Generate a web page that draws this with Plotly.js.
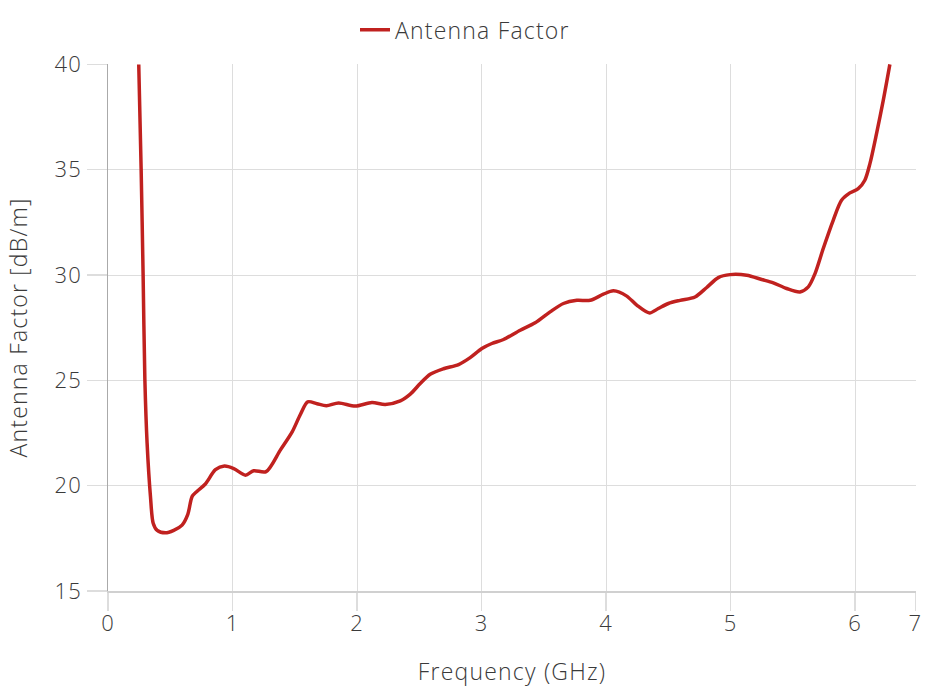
<!DOCTYPE html>
<html>
<head>
<meta charset="utf-8">
<script src="https://cdn.plot.ly/plotly-3.0.1.min.js"></script>
<style>
html,body{margin:0;padding:0;background:#fff;}
#chart{width:930px;height:696px;}
svg text{letter-spacing:1.2px;}
</style>
</head>
<body>
<div id="chart"></div>
<script>
// Frequency (GHz)
var freq = [0.247, 0.266, 0.282, 0.296, 0.314, 0.341, 0.363, 0.395, 0.461, 0.528, 0.595, 0.641, 0.676, 0.716, 0.782, 0.863, 0.935, 1.01, 1.104, 1.17, 1.27, 1.384, 1.478, 1.545, 1.604, 1.679, 1.754, 1.852, 1.986, 2.12, 2.227, 2.348, 2.428, 2.508, 2.588, 2.695, 2.816, 2.909, 3.003, 3.083, 3.177, 3.311, 3.431, 3.551, 3.658, 3.766, 3.872, 3.979, 4.06, 4.167, 4.247, 4.349, 4.42, 4.501, 4.595, 4.715, 4.809, 4.902, 4.996, 5.13, 5.25, 5.344, 5.451, 5.558, 5.625, 5.679, 5.745, 5.825, 5.892, 5.959, 6.026, 6.079, 6.12, 6.173, 6.227, 6.28];
// Antenna Factor (dB/m)
var af = [40.0, 35.07, 30.0, 25.08, 22.03, 19.49, 18.22, 17.88, 17.76, 17.88, 18.13, 18.64, 19.49, 19.74, 20.08, 20.76, 20.93, 20.81, 20.5, 20.71, 20.67, 21.69, 22.54, 23.38, 23.98, 23.89, 23.8, 23.93, 23.78, 23.95, 23.86, 24.03, 24.35, 24.85, 25.29, 25.55, 25.75, 26.08, 26.51, 26.75, 26.94, 27.38, 27.73, 28.25, 28.65, 28.8, 28.8, 29.09, 29.25, 29.0, 28.57, 28.2, 28.41, 28.65, 28.8, 28.96, 29.41, 29.88, 30.02, 29.99, 29.79, 29.63, 29.36, 29.2, 29.44, 30.07, 31.26, 32.6, 33.55, 33.9, 34.1, 34.5, 35.29, 36.71, 38.29, 40.0];
var xTickVals = [0, 1, 2, 3, 4, 5, 6, 6.485];
var xTickText = ["0", "1", "2", "3", "4", "5", "6", "7"];
var yTickVals = [15, 20, 25, 30, 35, 40];

var FONT = "Open Sans, Lato, sans-serif";
var TXT = '#3a3a3a';
var trace = {
  x: freq, y: af, type: 'scatter', mode: 'lines', name: 'Antenna Factor',
  line: {color: '#c0211f', width: 3.5, shape: 'spline', smoothing: 0.8},
  hoverinfo: 'x+y'
};
var layout = {
  width: 930, height: 696,
  margin: {l: 108, r: 14, t: 64, b: 105},
  paper_bgcolor: '#fff', plot_bgcolor: '#fff',
  font: {family: FONT, color: TXT, size: 21, weight: 300},
  showlegend: true,
  legend: {orientation: 'h', xref: 'container', yref: 'container', x: 0.5, xanchor: 'center', y: 0.988, yanchor: 'top', font: {size: 23, color: TXT, family: FONT, weight: 300}},
  xaxis: {
    range: [0, 6.49], tickmode: 'array', tickvals: xTickVals, ticktext: xTickText,
    showgrid: true, gridcolor: '#dddddd', gridwidth: 1,
    ticks: 'outside', ticklen: 18, tickcolor: '#dddddd', tickwidth: 1.5,
    showline: true, linecolor: '#d0d0d0', linewidth: 1.5,
    zeroline: false, tickfont: {size: 22, color: TXT, weight: 300},
    ticklabelstandoff: -6,
    title: {text: 'Frequency (GHz)', font: {size: 23, color: TXT, weight: 300}, standoff: 28}
  },
  yaxis: {
    range: [15, 40.02], tickmode: 'array', tickvals: yTickVals,
    showgrid: true, gridcolor: '#dddddd', gridwidth: 1,
    ticks: 'outside', ticklen: 20, tickcolor: '#dddddd', tickwidth: 1.5,
    showline: true, linecolor: '#aaaaaa', linewidth: 1.5,
    zeroline: false, tickfont: {size: 22, color: TXT, weight: 300},
    title: {text: 'Antenna Factor [dB/m]', font: {size: 23, color: TXT, weight: 300}, standoff: 20}
  }
};
Plotly.newPlot('chart', [trace], layout, {displayModeBar: false, staticPlot: true});
</script>
</body>
</html>
